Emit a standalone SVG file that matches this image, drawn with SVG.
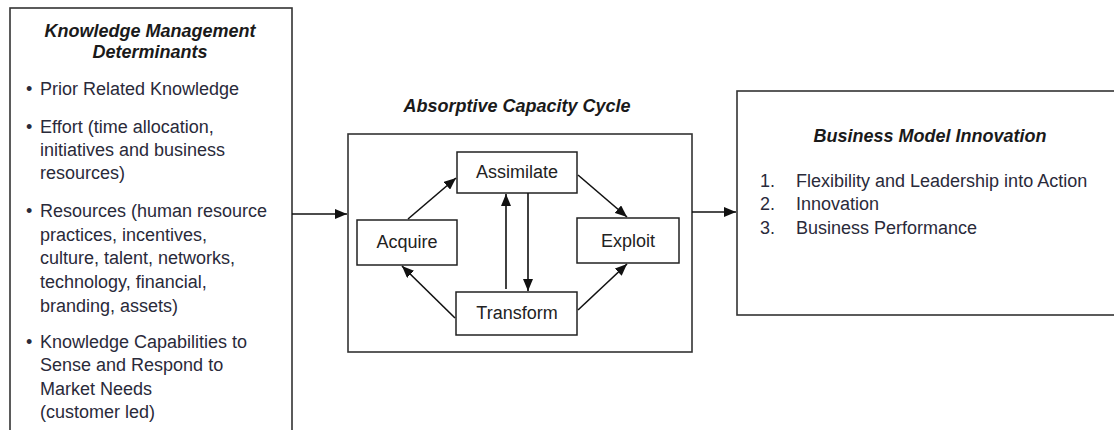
<svg xmlns="http://www.w3.org/2000/svg" width="1114" height="430" viewBox="0 0 1114 430">
  <defs>
    <marker id="arrow" viewBox="0 0 12 10" refX="12" refY="5" markerWidth="12" markerHeight="10" markerUnits="userSpaceOnUse" orient="auto">
      <path d="M0,0 L12,5 L0,10 Z" fill="#111"/>
    </marker>
  </defs>
  <style>
    .box { fill: #fff; stroke: #333; stroke-width: 1.6; }
    .inner { fill: #fff; stroke: #222; stroke-width: 1.5; }
    .title { font-family: "Liberation Sans", Arial, sans-serif; font-size: 18px; font-weight: bold; font-style: italic; fill: #1a1a1a; }
    .txt { font-family: "Liberation Sans", Arial, sans-serif; font-size: 18px; fill: #2a2a3a; }
    .lbl { font-family: "Liberation Sans", Arial, sans-serif; font-size: 18px; fill: #222; text-anchor: middle; }
    .conn { stroke: #111; stroke-width: 1.6; fill: none; marker-end: url(#arrow); }
  </style>
  <rect width="1114" height="430" fill="#fff"/>

  <!-- Knowledge management determinants -->
  <g id="determinants">
    <rect class="box" x="10" y="8" width="282" height="440"/>
    <text class="title" x="150" y="37" text-anchor="middle">Knowledge Management</text>
    <text class="title" x="150" y="58" text-anchor="middle">Determinants</text>
    <g class="txt">
      <text x="26" y="95">•</text>
      <text x="40" y="95">Prior Related Knowledge</text>
      <text x="26" y="133">•</text>
      <text x="40" y="133">Effort (time allocation,</text>
      <text x="40" y="156">initiatives and business</text>
      <text x="40" y="179">resources)</text>
      <text x="26" y="217">•</text>
      <text x="40" y="217">Resources (human resource</text>
      <text x="40" y="241">practices, incentives,</text>
      <text x="40" y="264">culture, talent, networks,</text>
      <text x="40" y="288">technology, financial,</text>
      <text x="40" y="312">branding, assets)</text>
      <text x="26" y="348">•</text>
      <text x="40" y="348">Knowledge Capabilities to</text>
      <text x="40" y="371">Sense and Respond to</text>
      <text x="40" y="395">Market Needs</text>
      <text x="40" y="418">(customer led)</text>
    </g>
  </g>

  <!-- Absorptive capacity cycle -->
  <g id="cycle">
    <text class="title" x="517" y="112" text-anchor="middle">Absorptive Capacity Cycle</text>
    <rect class="box" x="348" y="134" width="344" height="218"/>
  </g>
  <g id="assimilate">
    <rect class="inner" x="457" y="152" width="120" height="41"/>
    <text class="lbl" x="517" y="178">Assimilate</text>
  </g>
  <g id="acquire">
    <rect class="inner" x="357" y="220" width="100" height="45"/>
    <text class="lbl" x="407" y="248">Acquire</text>
  </g>
  <g id="exploit">
    <rect class="inner" x="577" y="218" width="102" height="45"/>
    <text class="lbl" x="628" y="247">Exploit</text>
  </g>
  <g id="transform">
    <rect class="inner" x="456" y="292" width="121" height="43"/>
    <text class="lbl" x="517" y="319">Transform</text>
  </g>

  <!-- Business model innovation -->
  <g id="business">
    <rect class="box" x="737" y="91" width="400" height="224"/>
    <text class="title" x="930" y="142" text-anchor="middle">Business Model Innovation</text>
    <g class="txt">
      <text x="760" y="187">1.</text>
      <text x="796" y="187">Flexibility and Leadership into Action</text>
      <text x="760" y="210">2.</text>
      <text x="796" y="210">Innovation</text>
      <text x="760" y="234">3.</text>
      <text x="796" y="234">Business Performance</text>
    </g>
  </g>

  <!-- Connectors -->
  <g id="connectors">
    <line class="conn" x1="292" y1="214" x2="347" y2="214"/>
    <line class="conn" x1="692" y1="212" x2="736" y2="212"/>
    <line class="conn" x1="408" y1="219" x2="456" y2="178"/>
    <line class="conn" x1="578" y1="175" x2="627" y2="217"/>
    <line class="conn" x1="578" y1="310" x2="627" y2="264"/>
    <line class="conn" x1="455" y1="318" x2="402" y2="266"/>
    <line class="conn" x1="506" y1="289" x2="506" y2="194"/>
    <line class="conn" x1="528" y1="193" x2="528" y2="291"/>
  </g>
</svg>
